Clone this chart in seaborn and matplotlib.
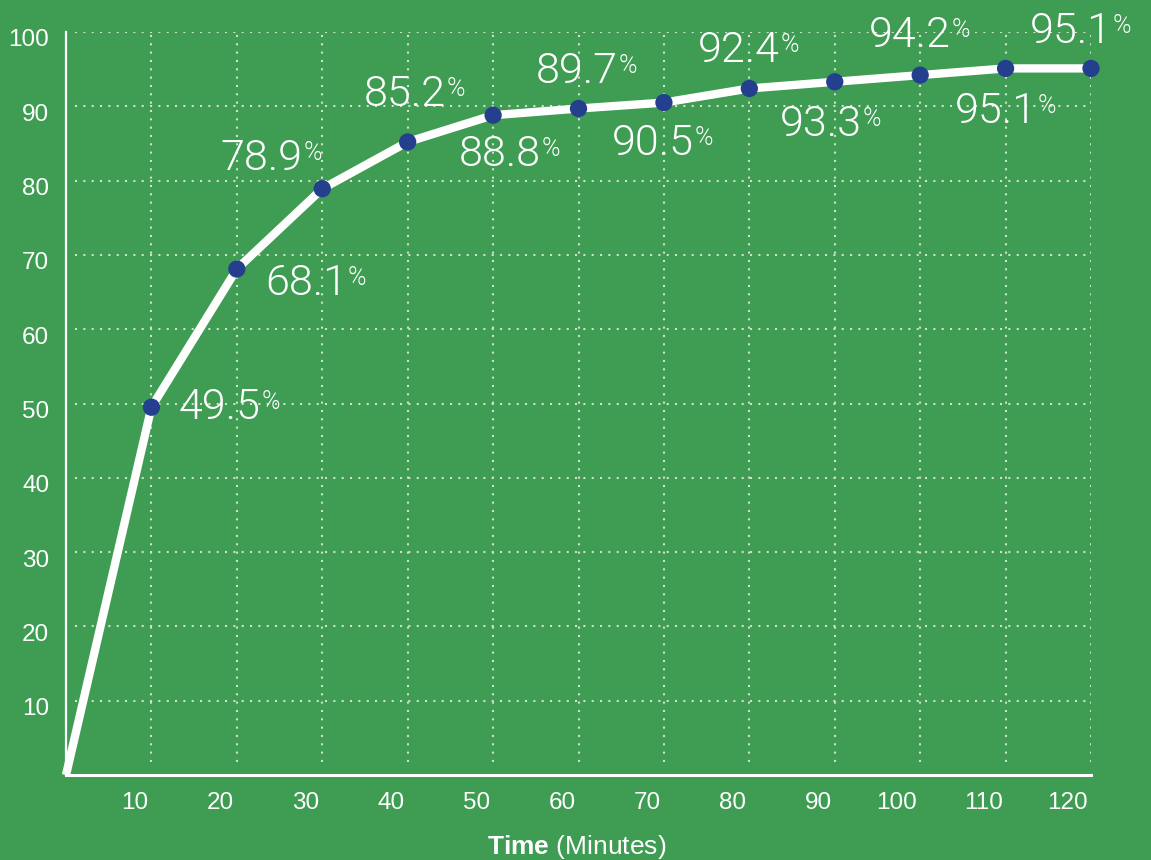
import matplotlib
matplotlib.use("Agg")
import matplotlib.pyplot as plt
import matplotlib.transforms as mtransforms
import pandas as pd
import seaborn as sns

# data
minutes = [0, 10, 20, 30, 40, 50, 60, 70, 80, 90, 100, 110, 120]
percent = [0, 49.5, 68.1, 78.9, 85.2, 88.8, 89.7, 90.5, 92.4, 93.3, 94.2, 95.1, 95.1]
x_ticks = [10, 20, 30, 40, 50, 60, 70, 80, 90, 100, 110, 120]
y_ticks = [10, 20, 30, 40, 50, 60, 70, 80, 90, 100]

# where each value label sits relative to its point (pixels)
label_dx = [68, 69, -61, -3, 7, -2, -11, -11, -14, -10, -10, -20]
label_dy = [0, -14, 30, 47, -39, 37, -41, 38, -43, 40, -43, 37]

BG = "#3f9c53"
DOT = "#253f8f"
GRID = "#cfe0cc"

sns.set_style("white", rc={"axes.facecolor": BG, "figure.facecolor": BG})
plt.rcParams["font.family"] = ["Liberation Sans", "DejaVu Sans"]
plt.rcParams["mathtext.fontset"] = "custom"
plt.rcParams["mathtext.rm"] = "Liberation Sans"
plt.rcParams["mathtext.bf"] = "Liberation Sans:bold"

df = pd.DataFrame({"minutes": minutes, "percent": percent})
pts = df[df["minutes"] > 0]

fig = plt.figure(figsize=(11.51, 8.6), dpi=100)
ax = fig.add_axes([66 / 1151, 85 / 860, 1025 / 1151, 743 / 860])
ax.set_xlim(0, 120)
ax.set_ylim(0, 100)

# dotted grid, not touching the axes
dots = (0, (1, 3))
ax.hlines(y_ticks, 1.05, 120, colors=GRID, linestyles=dots, linewidth=1.5, zorder=1)
ax.vlines(x_ticks, 1.8, 100, colors=GRID, linestyles=dots, linewidth=1.5, zorder=1)

sns.lineplot(data=df, x="minutes", y="percent", color="white", linewidth=6,
             ax=ax, zorder=3, solid_capstyle="butt", clip_on=False)
sns.scatterplot(data=pts, x="minutes", y="percent", color=DOT, s=155,
                edgecolor="none", ax=ax, zorder=4, clip_on=False)

label_font = ["Roboto", "Liberation Sans", "DejaVu Sans"]
for (x, y), dx, dy in zip(pts[["minutes", "percent"]].values, label_dx, label_dy):
    num = ax.annotate(f"{y:.1f}", xy=(x, y), xytext=(dx, dy), textcoords="offset pixels",
                      ha="center", va="center", fontsize=31, color="white",
                      family=label_font, fontweight=300, zorder=5)
    ax.annotate("%", xy=(1, 1), xycoords=num, xytext=(1, -3), textcoords="offset pixels",
                ha="left", va="top", fontsize=18, color="white",
                family=label_font, fontweight=300, zorder=5)

ax.set_xticks(x_ticks)
ax.set_yticks(y_ticks)
ax.tick_params(axis="both", length=0, labelsize=17.5, labelcolor="white", pad=12)
ax.set_xlabel("")
ax.set_ylabel("")
for lab in ax.get_xticklabels():
    lab.set_horizontalalignment("right")
    lab.set_transform(lab.get_transform() + mtransforms.ScaledTranslation(-0.03, 0, fig.dpi_scale_trans))
for lab in ax.get_yticklabels():
    lab.set_transform(lab.get_transform() + mtransforms.ScaledTranslation(0, -0.06, fig.dpi_scale_trans))

for side in ["top", "right"]:
    ax.spines[side].set_visible(False)
ax.spines["left"].set_color("white")
ax.spines["left"].set_linewidth(1.6)
ax.spines["bottom"].set_color("white")
ax.spines["bottom"].set_linewidth(2.2)

fig.text(577 / 1151, 1 - 847 / 860, r"$\mathbf{Time}$ (Minutes)", ha="center", va="center",
         fontsize=19, color="white")

fig.savefig("out.png", dpi=100, facecolor=BG)
